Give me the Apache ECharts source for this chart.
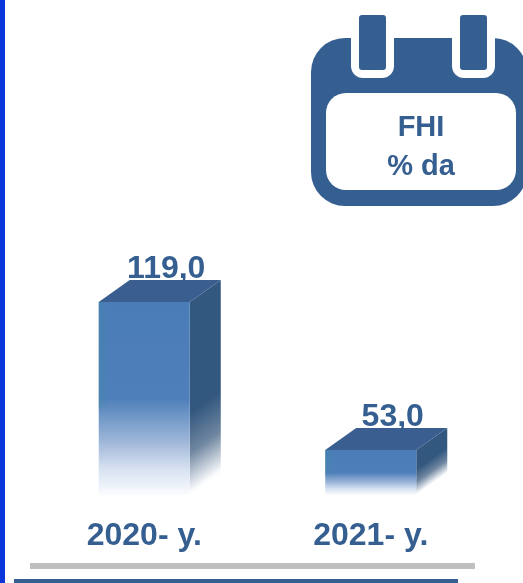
<!DOCTYPE html>
<html>
<head>
<meta charset="utf-8">
<style>
  html, body { margin: 0; padding: 0; background: #fff; }
  #chart { width: 523px; height: 583px; }
</style>
</head>
<body>
<div id="chart"></div>
<script src="https://cdn.jsdelivr.net/npm/echarts@6/dist/echarts.min.js"></script>
<script>
const categories = ['2020- y.', '2021- y.']
const values = [119.0, 53.0]
const cardLines = ['FHI', '% da']

const BLUE = '#365f91'
const FONT = '"Liberation Sans", Arial, sans-serif'
const AXIS_MIN = 33 // the picture's axis does not start at zero
const AXIS_MAX = 119
const DEPTH_X = 31
const DEPTH_Y = 22

// front face: solid down to the middle, then a soft fade to white
function frontFade() {
  return {
    type: 'linear', x: 0, y: 0, x2: 0, y2: 1,
    colorStops: [
      { offset: 0, color: '#4a7cb8' },
      { offset: 0.5, color: '#4f7fba' },
      { offset: 0.72, color: '#9db6d8' },
      { offset: 0.86, color: '#d5e0f0' },
      { offset: 1, color: '#fbfcfe' }
    ]
  }
}

// side face fades across the slanted bottom edge
function sideFade(r, topBack, base) {
  const h = base - topBack
  const startY = topBack + h * 0.62
  const len = h * 0.3
  return {
    type: 'linear', global: true,
    x: r, y: startY, x2: r + len * 0.58, y2: startY + len * 0.82,
    colorStops: [
      { offset: 0, color: '#33587f' },
      { offset: 0.5, color: '#6f86a0' },
      { offset: 1, color: '#fbfcfe' }
    ]
  }
}

function renderBar(params, api) {
  const top = api.coord([api.value(0), api.value(1)])
  const base = api.coord([api.value(0), AXIS_MIN])
  const w = api.size([1, 0])[0] * 0.402
  const l = top[0] - w / 2
  const r = l + w
  const label = api.value(1).toFixed(1).replace('.', ',')
  return {
    type: 'group',
    children: [
      {
        type: 'polygon',
        shape: { points: [[r, top[1]], [r + DEPTH_X, top[1] - DEPTH_Y], [r + DEPTH_X, base[1] - DEPTH_Y], [r, base[1]]] },
        style: { fill: sideFade(r, top[1] - DEPTH_Y, base[1]) }
      },
      {
        type: 'polygon',
        shape: { points: [[l, top[1]], [l + DEPTH_X, top[1] - DEPTH_Y], [r + DEPTH_X, top[1] - DEPTH_Y], [r, top[1]]] },
        style: { fill: '#3a5e90' }
      },
      {
        type: 'rect',
        shape: { x: l, y: top[1], width: w, height: base[1] - top[1] },
        style: { fill: frontFade() }
      },
      {
        // teal tint on the left edge of the front face
        type: 'rect',
        shape: { x: l, y: top[1], width: 10, height: (base[1] - top[1]) * 0.55 },
        style: {
          fill: {
            type: 'linear', x: 0, y: 0, x2: 1, y2: 0,
            colorStops: [
              { offset: 0, color: 'rgba(60,140,160,0.35)' },
              { offset: 1, color: 'rgba(60,140,160,0)' }
            ]
          }
        }
      },
      {
        type: 'text',
        z2: 5,
        style: {
          x: l + w / 2 + 22,
          y: top[1] - DEPTH_Y + 5,
          text: label,
          fill: BLUE,
          font: 'bold 32px ' + FONT,
          align: 'center',
          verticalAlign: 'bottom'
        }
      }
    ]
  }
}

const chart = echarts.init(document.getElementById('chart'))
chart.setOption({
  animation: false,
  backgroundColor: '#fff',
  grid: { left: 31, top: 302, width: 453, height: 193 },
  xAxis: {
    type: 'category',
    data: categories,
    axisLine: { show: false },
    axisTick: { show: false },
    axisLabel: { color: BLUE, fontFamily: FONT, fontWeight: 'bold', fontSize: 32, margin: 25 }
  },
  yAxis: { type: 'value', min: AXIS_MIN, max: AXIS_MAX, show: false },
  series: [{
    type: 'custom',
    renderItem: renderBar,
    encode: { x: 0, y: 1 },
    data: values.map((v, i) => [i, v])
  }],
  graphic: [
    { type: 'rect', shape: { x: 0, y: 0, width: 5, height: 583 }, style: { fill: '#0b36dc' } },
    { type: 'rect', shape: { x: 30, y: 563, width: 445, height: 6 }, style: { fill: '#bfbfbf' } },
    { type: 'rect', shape: { x: 14, y: 579, width: 444, height: 4 }, style: { fill: BLUE } },
    // calendar card
    { type: 'rect', shape: { x: 311, y: 38, width: 216, height: 168, r: 34 }, style: { fill: BLUE } },
    { type: 'rect', shape: { x: 351, y: 30, width: 43, height: 48, r: [0, 0, 12, 12] }, style: { fill: '#fff' } },
    { type: 'rect', shape: { x: 452, y: 30, width: 43, height: 48, r: [0, 0, 12, 12] }, style: { fill: '#fff' } },
    { type: 'rect', shape: { x: 359, y: 15, width: 27, height: 55, r: 3 }, style: { fill: BLUE } },
    { type: 'rect', shape: { x: 460, y: 15, width: 27, height: 55, r: 3 }, style: { fill: BLUE } },
    { type: 'rect', shape: { x: 326, y: 93, width: 190, height: 97, r: 20 }, style: { fill: '#fff' } },
    { type: 'text', style: { x: 421, y: 128, text: cardLines[0], fill: BLUE, font: 'bold 29px ' + FONT, align: 'center', verticalAlign: 'middle' } },
    { type: 'text', style: { x: 421, y: 167, text: cardLines[1], fill: BLUE, font: 'bold 29px ' + FONT, align: 'center', verticalAlign: 'middle' } }
  ]
})
</script>
</body>
</html>
